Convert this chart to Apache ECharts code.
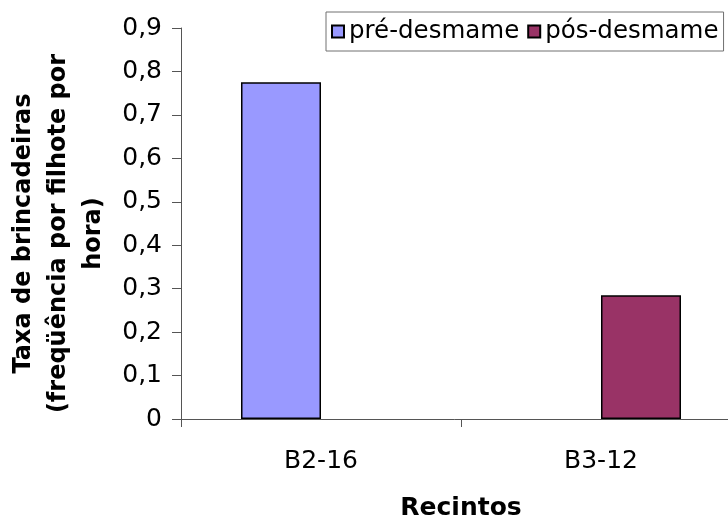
<!DOCTYPE html>
<html>
<head>
<meta charset="utf-8">
<script src="https://cdn.jsdelivr.net/npm/echarts@6/dist/echarts.min.js"></script>
<style>
  html, body { margin: 0; padding: 0; background: #ffffff; }
  #chart { width: 728px; height: 520px; }
</style>
</head>
<body>
<div id="chart"></div>
<script>
// Enclosures on the category axis
const categories = ['B2-16', 'B3-12'];
// Play rate per pup per hour, one series per weaning phase
const preDesmame = [0.775, null];
const posDesmame = [null, 0.285];
const seriesNames = ['pré-desmame', 'pós-desmame'];
const yTicks = ['0', '0,1', '0,2', '0,3', '0,4', '0,5', '0,6', '0,7', '0,8', '0,9'];

const FONT = 'DejaVu Sans';
const chart = echarts.init(document.getElementById('chart'), null, { renderer: 'canvas' });

chart.setOption({
  animation: false,
  backgroundColor: '#ffffff',
  grid: { left: 181, top: 28, width: 560, height: 391, containLabel: false, outerBoundsMode: 'none' },
  legend: {
    data: seriesNames,
    left: 326,
    top: 12,
    orient: 'horizontal',
    itemWidth: 12,
    itemHeight: 12,
    itemGap: 8,
    padding: [7, 5, 7, 5],
    borderColor: '#707070',
    borderWidth: 1,
    backgroundColor: '#ffffff',
    icon: 'rect',
    textStyle: { fontFamily: FONT, fontSize: 24.5, color: '#000000' }
  },
  xAxis: {
    type: 'category',
    data: categories,
    name: 'Recintos',
    nameLocation: 'middle',
    nameGap: 77,
    nameTextStyle: { fontFamily: FONT, fontSize: 25, fontWeight: 'bold', color: '#000000' },
    axisLine: { lineStyle: { color: '#555555', width: 1 } },
    axisTick: { show: true, alignWithLabel: false, length: 8, lineStyle: { color: '#555555' } },
    axisLabel: { fontFamily: FONT, fontSize: 25, color: '#000000', margin: 30 },
    splitLine: { show: false }
  },
  yAxis: {
    type: 'value',
    min: 0,
    max: 0.9,
    interval: 0.1,
    name: 'Taxa de brincadeiras\n(freqüência por filhote por\nhora)',
    nameLocation: 'middle',
    nameRotate: 90,
    nameGap: 67,
    nameTextStyle: {
      fontFamily: FONT, fontSize: 24, fontWeight: 'bold', color: '#000000',
      lineHeight: 35, align: 'center', padding: [0, 20, 0, 0]
    },
    axisLine: { show: true, lineStyle: { color: '#555555', width: 1 } },
    axisTick: { show: true, inside: false, length: 9, lineStyle: { color: '#555555' } },
    axisLabel: {
      fontFamily: FONT, fontSize: 25, color: '#000000', margin: 19,
      formatter: function (v) { return yTicks[Math.round(v * 10)]; }
    },
    splitLine: { show: false }
  },
  series: [
    {
      name: seriesNames[0],
      type: 'bar',
      data: preDesmame,
      barWidth: 80,
      barGap: '0%',
      itemStyle: { color: '#9999FF', borderColor: '#000000', borderWidth: 1.5 }
    },
    {
      name: seriesNames[1],
      type: 'bar',
      data: posDesmame,
      barWidth: 80,
      barGap: '0%',
      itemStyle: { color: '#993366', borderColor: '#000000', borderWidth: 1.5 }
    }
  ]
});
</script>
</body>
</html>
